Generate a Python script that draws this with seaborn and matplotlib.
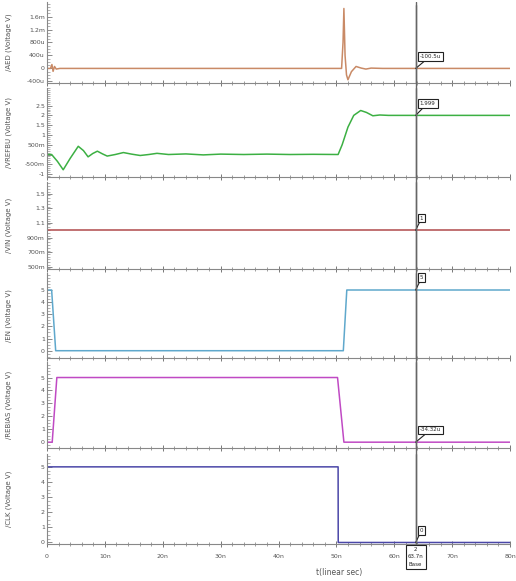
import matplotlib
matplotlib.use("Agg")
import matplotlib.pyplot as plt
from matplotlib.lines import Line2D
from matplotlib.ticker import MultipleLocator
import seaborn as sns

sns.set_theme(style="white")
plt.rcParams['font.family'] = ['DejaVu Sans']

# 时间 (ns)
t_aed = [0, 0.6, 0.85, 1.05, 1.3, 1.6, 2.2, 50.9, 51.15, 51.3, 51.5, 51.75, 52.0, 52.6, 53.4, 54.3, 55.1, 56.0, 57.0, 58.0, 80]
v_aed = [0, 0, 1.2e-4, -9e-5, 6e-5, -2e-5, 0, 0, 8e-4, 1.85e-3, 4e-4, -2e-4, -3.5e-4, -1e-4, 6e-5, 1e-5, -2e-5, 1e-5, 5e-6, 0, 0]

t_vref = [0, 0.8, 1.8, 2.8, 4.0, 5.4, 6.3, 7.1, 7.9, 8.7, 9.6, 10.4, 11.8, 13.2, 14.6, 16.1, 17.6, 19.0, 21.0, 24.0, 27.0, 30.0, 34.0, 38.0, 42.0, 46.0, 50.3,
          51.0, 52.0, 53.0, 54.2, 55.2, 56.3, 57.5, 59.0, 61.0, 80]
v_vref = [0, 0, -0.35, -0.78, -0.2, 0.42, 0.2, -0.12, 0.05, 0.17, 0.03, -0.08, 0.0, 0.1, 0.02, -0.05, 0.0, 0.06, 0.0, 0.03, -0.02, 0.02, 0.0, 0.02, 0.0, 0.01, 0.0,
          0.5, 1.4, 2.0, 2.25, 2.15, 1.98, 2.02, 2.0, 2.0, 2.0]

t_vin = [0, 80]
v_vin = [1.0, 1.0]

t_en = [0, 0.8, 1.5, 51.2, 51.8, 80]
v_en = [5, 5, 0, 0, 5, 5]

t_rebias = [0, 0.9, 1.7, 50.2, 51.3, 80]
v_rebias = [0, 0, 5, 5, 0, 0]

t_clk = [0, 50.3, 50.32, 80]
v_clk = [5, 5, 0, 0]

ylabels = ['/AED (Voltage V)', '/VREFBU (Voltage V)', '/VIN (Voltage V)',
           '/EN (Voltage V)', '/REBIAS (Voltage V)', '/CLK (Voltage V)']
colors = ['#c98a66', '#3cb043', '#b04a4c', '#5fa8cc', '#c04ac4', '#4b47a8']

yticks = [[-4e-4, 0, 4e-4, 8e-4, 1.2e-3, 1.6e-3],
          [-1, -0.5, 0, 0.5, 1, 1.5, 2, 2.5],
          [0.5, 0.7, 0.9, 1.1, 1.3, 1.5],
          [0, 1, 2, 3, 4, 5],
          [0, 1, 2, 3, 4, 5],
          [0, 1, 2, 3, 4, 5]]
yticklabels = [['-400u', '0', '400u', '800u', '1.2m', '1.6m'],
               ['-1', '-500m', '0', '500m', '1', '1.5', '2', '2.5'],
               ['500m', '700m', '900m', '1.1', '1.3', '1.5'],
               ['0', '1', '2', '3', '4', '5'],
               ['0', '1', '2', '3', '4', '5'],
               ['0', '1', '2', '3', '4', '5']]
ylims = [(-4.5e-4, 2.05e-3), (-1.15, 3.4), (0.47, 1.66), (-0.6, 6.4), (-0.45, 6.2), (-0.1, 5.85)]
yminor = [1e-4, 0.1, 0.04, 0.25, 0.25, 0.25]

cursor_t = 63.7
cursor_vals = ['-100.5u', '1.999', '1', '5', '-34.32u', '0']
cursor_y = [0, 2.0, 1.0, 5, 0, 0]

xticks = [0, 10, 20, 30, 40, 50, 60, 70, 80]
xticklabels = ['0', '10n', '20n', '30n', '40n', '50n', '60n', '70n', '80n']

series = [(t_aed, v_aed), (t_vref, v_vref), (t_vin, v_vin),
          (t_en, v_en), (t_rebias, v_rebias), (t_clk, v_clk)]

# 每个面板的像素位置 (上, 下)
H = 581.0
W = 516.0
rows = [(2, 83), (88, 177), (182, 269), (273, 358), (362, 448), (454, 544)]
left = 47 / W
width = (510 - 47) / W

fig = plt.figure(figsize=(5.16, 5.81), dpi=100)
axes = []
for i, (top, bot) in enumerate(rows):
    ax = fig.add_axes([left, 1 - bot / H, width, (bot - top) / H])
    t, v = series[i]
    sns.lineplot(x=t, y=v, ax=ax, color=colors[i], lw=1.1)
    ax.set_xlim(0, 80)
    ax.set_ylim(*ylims[i])
    ax.set_yticks(yticks[i])
    ax.set_yticklabels(yticklabels[i], fontsize=4.5, color='#555555')
    ax.yaxis.set_minor_locator(MultipleLocator(yminor[i]))
    ax.set_xticks(xticks)
    ax.xaxis.set_minor_locator(MultipleLocator(2))
    if i < 5:
        ax.set_xticklabels([])
    else:
        ax.set_xticklabels(xticklabels, fontsize=4.5, color='#555555')
    ax.tick_params(which='both', bottom=True, left=True)
    ax.tick_params(axis='y', which='major', direction='in', length=3.5, width=0.6, color='#777777', pad=1.5)
    ax.tick_params(axis='y', which='minor', direction='in', length=2, width=0.4, color='#777777')
    ax.tick_params(axis='x', which='major', direction='inout', length=5, width=0.7, color='#777777', pad=5)
    ax.tick_params(axis='x', which='minor', direction='inout', length=2.5, width=0.5, color='#777777')
    for s in ['top', 'right']:
        ax.spines[s].set_visible(False)
    for s in ['left', 'bottom']:
        ax.spines[s].set_color('#888888')
        ax.spines[s].set_linewidth(0.8)
    ax.set_ylabel(ylabels[i], fontsize=5, color='#555555')
    ax.yaxis.set_label_coords(-0.075, 0.5)
    ax.axvline(cursor_t, color='#666666', lw=1)
    ax.annotate(cursor_vals[i], xy=(cursor_t, cursor_y[i]), xytext=(3, 7),
                textcoords='offset points', fontsize=4, ha='left', va='bottom',
                bbox=dict(boxstyle='square,pad=0.35', fc='white', ec='#222222', lw=0.8),
                arrowprops=dict(arrowstyle='-', color='#222222', lw=0.8, shrinkA=0, shrinkB=0))
    axes.append(ax)

# 游标线贯穿所有面板
xf = left + width * cursor_t / 80
fig.add_artist(Line2D([xf, xf], [1 - 544 / H, 1 - 5 / H], color='#666666', lw=1))

ax6 = axes[-1]
ax6.annotate('2\n63.7n\nBase', xy=(cursor_t, 0), xycoords=('data', 'axes fraction'),
             xytext=(0, -2), textcoords='offset points', ha='center', va='top',
             fontsize=4, linespacing=1.6,
             bbox=dict(boxstyle='square,pad=0.4', fc='white', ec='#222222', lw=0.8))
ax6.set_xlabel('t(linear sec)', fontsize=5.5, color='#555555')
ax6.xaxis.set_label_coords(0.63, -0.27)

fig.savefig('out.png', dpi=100)
